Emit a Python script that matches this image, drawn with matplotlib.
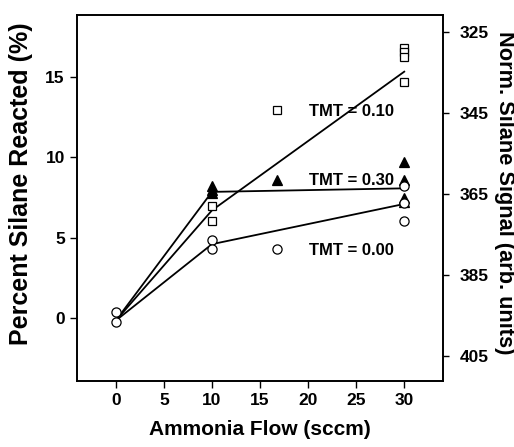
import matplotlib
matplotlib.use("Agg")
import matplotlib.pyplot as plt
from matplotlib.lines import Line2D

plt.rcParams['font.family'] = ['Liberation Sans', 'DejaVu Sans']
plt.rcParams['font.weight'] = 'bold'

# --- data ---
# TMT = 0.10 (open squares)
sq_x = [10, 10, 30, 30, 30, 30]
sq_y = [7.0, 6.06, 16.82, 16.54, 16.26, 14.65]
# TMT = 0.30 (filled triangles)
tri_x = [10, 10, 10, 30, 30, 30, 30]
tri_y = [8.2, 7.97, 7.78, 9.73, 8.56, 7.47, 7.24]
# TMT = 0.00 (open circles)
cir_x = [0, 0, 10, 10, 30, 30, 30]
cir_y = [0.41, -0.21, 4.86, 4.29, 8.22, 7.16, 6.01]

# connecting lines
line_x = [0, 10, 30]
line_010 = [-0.15, 6.7, 15.32]
line_030 = [-0.15, 7.85, 8.07]
line_000 = [-0.15, 4.6, 7.1]

labels = ["TMT = 0.10", "TMT = 0.30", "TMT = 0.00"]
xticks = [0, 5, 10, 15, 20, 25, 30]
yticks = [0, 5, 10, 15]
rticks = [325, 345, 365, 385, 405]

fig = plt.figure(figsize=(5.14, 4.47), dpi=100)
ax = fig.add_axes([0.1504, 0.1477, 0.7109, 0.8187])

lw = 1.3
for ly in (line_010, line_030, line_000):
    ax.plot(line_x, ly, color='black', lw=lw, zorder=2)

ms = 6.2
mst = 7.0
ax.plot(sq_x, sq_y, 's', mfc='white', mec='black', mew=0.9, ms=ms, zorder=3)
ax.plot(tri_x, tri_y, '^', mfc='black', mec='black', mew=0.9, ms=mst, zorder=3)
ax.plot(cir_x, cir_y, 'o', mfc='white', mec='black', mew=0.9, ms=ms + 0.4, zorder=3)

handles = [
    Line2D([], [], ls='none', marker='s', mfc='white', mec='black', mew=0.9, ms=ms),
    Line2D([], [], ls='none', marker='^', mfc='black', mec='black', mew=0.9, ms=mst),
    Line2D([], [], ls='none', marker='o', mfc='white', mec='black', mew=0.9, ms=ms + 0.4),
]
leg = ax.legend(handles, labels, loc='upper left', bbox_to_anchor=(0.524, 0.756),
                frameon=False, fontsize=12, labelspacing=3.25, handlelength=1.0,
                handletextpad=1.4, borderpad=0, borderaxespad=0, numpoints=1)
for t in leg.get_texts():
    t.set_fontweight('bold')

ax.set_xlim(-4, 34)
ax.set_ylim(-3.9, 18.84)
ax.set_xticks(xticks)
ax.set_yticks(yticks)
ax.tick_params(axis='both', direction='out', length=5, width=1, labelsize=12.5, pad=4)
ax.set_xlabel("Ammonia Flow (sccm)", fontsize=15, fontweight='bold', labelpad=8)
ax.set_ylabel("Percent Silane Reacted (%)", fontsize=18, fontweight='bold')
ax.yaxis.set_label_coords(-0.153, 0.54)
ax.yaxis.label.set_va('center')
for s in ax.spines.values():
    s.set_linewidth(1.2)

ax2 = ax.twinx()
ax2.set_ylim(411.2, 320.8)
ax2.set_yticks(rticks)
ax2.tick_params(axis='y', direction='out', length=4, width=1, labelsize=12.5, pad=8)
ax2.set_ylabel("Norm. Silane Signal (arb. units)", fontsize=15.7, fontweight='bold',
               rotation=270)
ax2.yaxis.set_label_coords(1.168, 0.513)
ax2.yaxis.label.set_va('center')
for s in ax2.spines.values():
    s.set_linewidth(1.2)

for lab in ax.get_xticklabels() + ax.get_yticklabels() + ax2.get_yticklabels():
    lab.set_fontweight('bold')

fig.savefig("out.png", dpi=100)
